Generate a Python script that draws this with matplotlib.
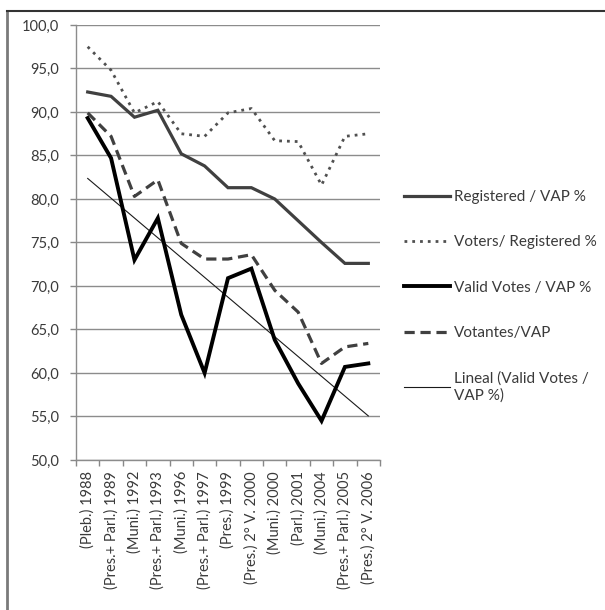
import numpy as np
import matplotlib
matplotlib.use("Agg")
import matplotlib.pyplot as plt
from matplotlib.lines import Line2D

plt.rcParams['font.family'] = ['Lato', 'DejaVu Sans']

categories = ["(Pleb.) 1988", "(Pres.+ Parl.) 1989", "(Muni.) 1992", "(Pres.+ Parl.) 1993",
              "(Muni.) 1996", "(Pres.+ Parl.) 1997", "(Pres.) 1999", "(Pres.) 2° V. 2000",
              "(Muni.) 2000", "(Parl.) 2001", "(Muni.) 2004", "(Pres.+ Parl.) 2005",
              "(Pres.) 2° V. 2006"]
registered_vap = [92.3, 91.8, 89.4, 90.2, 85.2, 83.8, 81.3, 81.3, 80.0, 77.5, 75.0, 72.6, 72.6]
voters_registered = [97.5, 94.8, 89.9, 91.2, 87.5, 87.2, 89.9, 90.4, 86.7, 86.6, 81.6, 87.2, 87.5]
valid_vap = [89.3, 84.7, 73.0, 77.8, 66.7, 60.0, 70.9, 72.0, 63.8, 58.8, 54.5, 60.7, 61.1]
votantes_vap = [89.9, 87.2, 80.3, 82.2, 74.9, 73.1, 73.1, 73.6, 69.5, 67.0, 61.1, 63.0, 63.4]
y_ticks = [50, 55, 60, 65, 70, 75, 80, 85, 90, 95, 100]
y_labels = ["50,0", "55,0", "60,0", "65,0", "70,0", "75,0", "80,0", "85,0", "90,0", "95,0", "100,0"]

W, H = 605, 610
fig = plt.figure(figsize=(W / 100, H / 100), dpi=100)
ax = fig.add_axes([76 / W, 1 - 460 / H, (380 - 76) / W, (460 - 25) / H])

x = np.arange(len(categories))
txt = '#3a3a3a'

ax.plot(x, registered_vap, color='#404040', lw=2.3, solid_joinstyle='miter', label='Registered / VAP %', zorder=3)
ax.plot(x, voters_registered, color='#505050', lw=2.0, linestyle=(0, (1, 1.8)), label='Voters/ Registered %', zorder=3)
ax.plot(x, valid_vap, color='#000000', lw=2.8, solid_joinstyle='miter', label='Valid Votes / VAP %', zorder=4)
ax.plot(x, votantes_vap, color='#404040', lw=2.3, linestyle=(0, (3.2, 1.8)), label='Votantes/VAP', zorder=3)
coef = np.polyfit(x, valid_vap, 1)
ax.plot(x, np.polyval(coef, x), color='#1a1a1a', lw=0.8, label='Lineal (Valid Votes /\nVAP %)', zorder=3)

ax.set_xlim(-0.5, len(categories) - 0.5)
ax.set_ylim(50, 100)
ax.set_yticks(y_ticks)
ax.set_yticklabels(y_labels)
ax.set_xticks(x)
ax.set_xticklabels(categories, rotation=90)
ax.set_xticks(np.arange(-0.5, len(categories), 1.0), minor=True)
ax.tick_params(axis='x', which='major', length=0, pad=8, labelsize=10.5, labelcolor=txt)
ax.tick_params(axis='x', which='minor', length=4, color='#888888', width=1)
ax.tick_params(axis='y', length=4, color='#888888', width=1, labelsize=10.5, labelcolor=txt, pad=8)

ax.grid(axis='y', color='#8c8c8c', lw=1.0)
ax.set_axisbelow(True)
for s in ['top', 'right']:
    ax.spines[s].set_visible(False)
for s in ['left', 'bottom']:
    ax.spines[s].set_color('#8c8c8c')
    ax.spines[s].set_linewidth(1.0)

leg = ax.legend(loc='upper left', bbox_to_anchor=(404 / W, 1 - 190 / H), bbox_transform=fig.transFigure,
                frameon=False, fontsize=11, handlelength=3.0, handletextpad=0.3, labelspacing=2.05,
                borderpad=0, borderaxespad=0)
for t in leg.get_texts():
    t.set_color(txt)

# outer chart border (only top and left visible in the crop)
fig.add_artist(Line2D([7 / W, 7 / W], [0, 1 - 11 / H], transform=fig.transFigure, color='#7a7a7a', lw=2))
fig.add_artist(Line2D([7 / W, 1], [1 - 11 / H, 1 - 11 / H], transform=fig.transFigure, color='#333333', lw=1.5))

fig.savefig('out.png', dpi=100)
